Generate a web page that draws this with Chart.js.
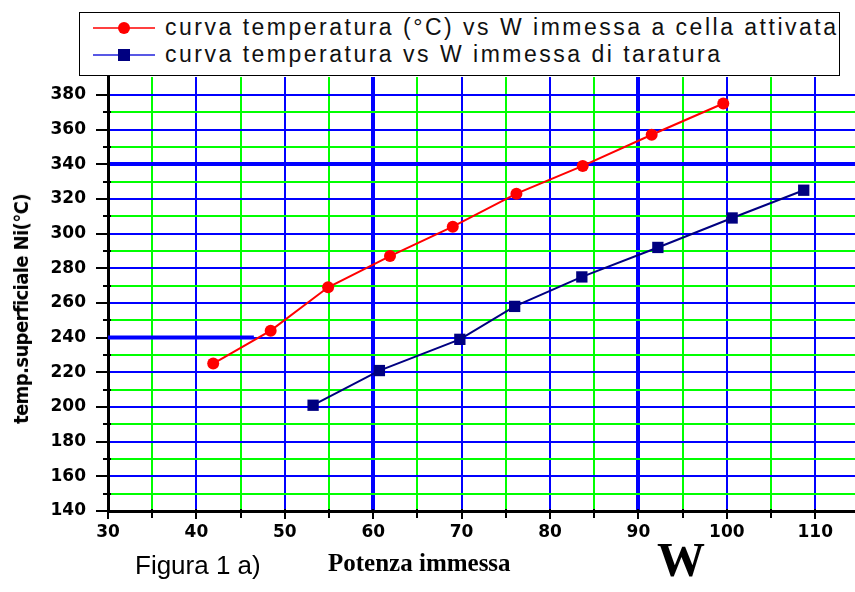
<!DOCTYPE html>
<html>
<head>
<meta charset="utf-8">
<script src="https://cdn.jsdelivr.net/npm/chart.js@4.4.0/dist/chart.umd.min.js"></script>
<style>
html, body { margin: 0; padding: 0; background: #fff; }
#wrap { position: relative; width: 855px; height: 592px; overflow: hidden; }
#chart { position: absolute; left: 0; top: 0; }
#legend { position: absolute; left: 79px; top: 12px; width: 761px; height: 64px; border: 1px solid #000; background: #fff; box-sizing: border-box; font-family: "Liberation Sans", Arial, sans-serif; font-size: 23px; color: #111; }
.item { position: absolute; left: 13px; display: flex; align-items: center; white-space: nowrap; letter-spacing: 2.5px; }
.item svg { margin-right: 10px; }
#ytitle { position: absolute; left: 21px; top: 309px; transform: translate(-50%, -50%) rotate(-90deg); font-family: "DejaVu Sans Condensed", "DejaVu Sans", sans-serif; font-weight: bold; font-size: 20px; white-space: nowrap; letter-spacing: -0.6px; }
.cap { position: absolute; white-space: nowrap; color: #000; }
</style>
</head>
<body>
<div id="wrap">
  <canvas id="chart" width="855" height="592"></canvas>
  <div id="legend">
    <div class="item" style="top:1px">
      <svg width="62" height="18"><line x1="0" y1="9" x2="62" y2="9" stroke="#ff0000" stroke-width="1.5"/><ellipse cx="31" cy="9" rx="6" ry="6" fill="#ff0000"/></svg>
      <span>curva temperatura (°C) vs W immessa a cella attivata</span>
    </div>
    <div class="item" style="top:28px">
      <svg width="62" height="18"><line x1="0" y1="9" x2="62" y2="9" stroke="#2020dd" stroke-width="1.5"/><rect x="25" y="3" width="12" height="12" fill="#000080"/></svg>
      <span>curva temperatura vs W immessa di taratura</span>
    </div>
  </div>
  <div id="ytitle">temp.superficiale Ni(°C)</div>
  <div class="cap" style="left:135px;top:550px;font-family:'Liberation Sans',Arial,sans-serif;font-size:26px;">Figura 1 a)</div>
  <div class="cap" style="left:328px;top:549px;font-family:'Liberation Serif','Times New Roman',serif;font-weight:bold;font-size:25px;">Potenza immessa</div>
  <div class="cap" style="left:657px;top:532px;font-family:'Liberation Serif','Times New Roman',serif;font-weight:bold;font-size:48px;">W</div>
</div>
<script>
// curva a cella attivata (rosso)
const activatedW = [41.9, 48.4, 54.9, 61.9, 69.0, 76.2, 83.7, 91.5, 99.6];
const activatedT = [225, 244, 269, 287, 304, 323, 339, 357, 375];
// curva di taratura (blu)
const calibW = [53.2, 60.7, 69.8, 76.0, 83.6, 92.2, 100.6, 108.7];
const calibT = [201, 221, 239, 258, 275, 292, 309, 325];

const xMin = 30, xMax = 114.5;
const yMin = 140, yMax = 390.3;

const BLUE = "#0000ff";
const GREEN = "#00ff00";
const NONE = "rgba(0,0,0,0)";

const toPoints = (xs, ys) => xs.map((x, i) => ({ x: x, y: ys[i] }));

// extra black tick marks + the short thick line at 240
const axisDecor = {
    id: "axisDecor",
    beforeDatasetsDraw(chart) {
        const { ctx, scales: { x, y } } = chart;
        ctx.save();
        ctx.strokeStyle = BLUE;
        ctx.lineWidth = 4;
        ctx.beginPath();
        ctx.moveTo(x.getPixelForValue(xMin), y.getPixelForValue(240));
        ctx.lineTo(x.getPixelForValue(46.5), y.getPixelForValue(240));
        ctx.stroke();
        ctx.restore();
    },
    afterDraw(chart) {
        const { ctx, scales: { x, y }, chartArea } = chart;
        ctx.save();
        ctx.strokeStyle = "#000";
        ctx.lineWidth = 2;
        y.ticks.forEach(t => {
            if (t.value > 389) return;
            const py = Math.round(y.getPixelForValue(t.value));
            const major = t.value % 20 === 0;
            ctx.beginPath();
            ctx.moveTo(chartArea.left - (major ? 12 : 5), py);
            ctx.lineTo(chartArea.left + (major ? 0 : 3), py);
            ctx.stroke();
        });
        x.ticks.forEach(t => {
            const px = Math.round(x.getPixelForValue(t.value));
            const major = t.value % 10 === 0;
            ctx.beginPath();
            ctx.moveTo(px, chartArea.bottom - 2);
            ctx.lineTo(px, chartArea.bottom + (major ? 8 : 7));
            ctx.stroke();
        });
        ctx.restore();
    }
};

const tickFont = { family: "'DejaVu Sans', sans-serif", weight: "bold", size: 17 };

new Chart(document.getElementById("chart").getContext("2d"), {
    type: "scatter",
    data: {
        datasets: [
            {
                label: "curva temperatura (°C) vs W immessa a cella attivata",
                data: toPoints(activatedW, activatedT),
                showLine: true,
                borderColor: "#ff0000",
                borderWidth: 2,
                backgroundColor: "#ff0000",
                pointStyle: "circle",
                pointRadius: 6,
                pointBorderWidth: 0,
                tension: 0
            },
            {
                label: "curva temperatura vs W immessa di taratura",
                data: toPoints(calibW, calibT),
                showLine: true,
                borderColor: "#000080",
                borderWidth: 2,
                backgroundColor: "#000080",
                pointStyle: "rect",
                pointRadius: 8,
                pointBorderWidth: 0,
                tension: 0
            }
        ]
    },
    options: {
        responsive: false,
        animation: false,
        layout: { autoPadding: false, padding: { left: 0, right: 0, top: 77, bottom: 0 } },
        plugins: {
            legend: { display: false },
            tooltip: { enabled: false }
        },
        scales: {
            x: {
                type: "linear",
                min: xMin,
                max: xMax,
                afterFit: s => { s.height = 81; },
                border: { color: "#000", width: 3 },
                grid: {
                    drawTicks: false,
                    color: c => c.tick.value === xMin ? NONE : (c.tick.value % 10 === 0 ? BLUE : GREEN),
                    lineWidth: c => (c.tick.value === 60 || c.tick.value === 90) ? 4 : 2
                },
                ticks: {
                    stepSize: 5,
                    includeBounds: false,
                    autoSkip: false,
                    maxRotation: 0,
                    padding: 11,
                    color: "#000",
                    font: tickFont,
                    callback: v => v % 10 === 0 ? v : ""
                }
            },
            y: {
                type: "linear",
                min: yMin,
                max: yMax,
                afterFit: s => { s.width = 108; },
                border: { color: "#000", width: 3 },
                grid: {
                    drawTicks: false,
                    color: c => (c.tick.value === yMin || c.tick.value > 389) ? NONE : (c.tick.value % 20 === 0 ? BLUE : GREEN),
                    lineWidth: c => c.tick.value === 340 ? 4 : 2
                },
                ticks: {
                    stepSize: 10,
                    includeBounds: false,
                    autoSkip: false,
                    padding: 22,
                    color: "#000",
                    font: tickFont,
                    callback: v => (v % 20 === 0 && v < 389) ? v : ""
                }
            }
        }
    },
    plugins: [axisDecor]
});
</script>
</body>
</html>
